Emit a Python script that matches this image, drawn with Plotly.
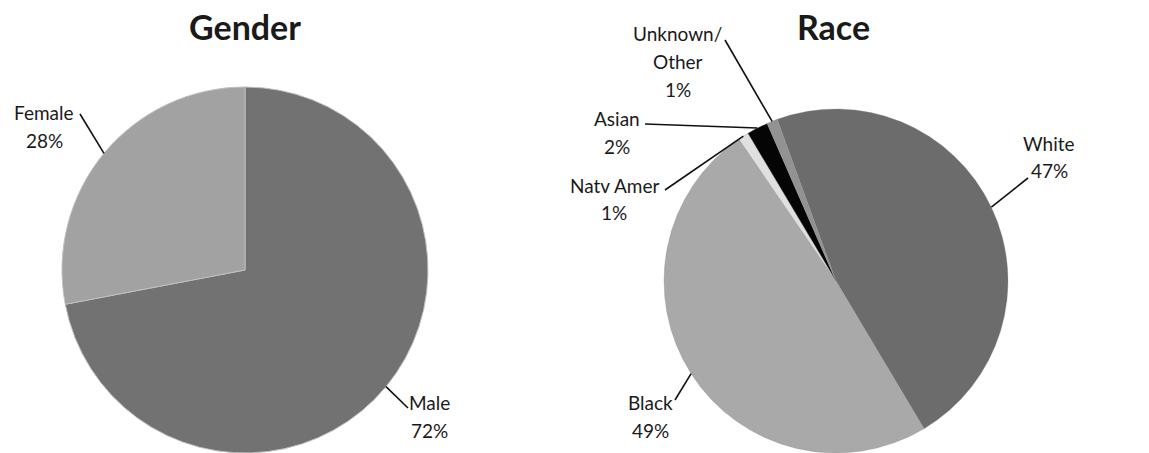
import math
import plotly.graph_objects as go

W, H = 1149, 453

# ---------------- data ----------------
gender_labels = ["Male", "Female"]
gender_values = [72, 28]
gender_colors = ["#727272", "#a2a2a2"]

race_labels = ["White", "Black", "Natv Amer", "Asian", "Unknown/<br>Other"]
race_values = [47, 49, 1, 2, 1]
race_colors = ["#6c6c6c", "#a9a9a9", "#e0e0e0", "#050505", "#929292"]

gender_rotation = 0
race_rotation = -20

# ---------------- layout geometry (px) ----------------
G_CX, G_R = 245, 183
R_CX, R_R = 836, 172

# label text centres (px) and leader-line start points (px)
gender_text_pos = {"Male": (429, 402), "Female": (44, 112)}
gender_line_start = {"Male": (408, 408), "Female": (80, 114)}
race_text_pos = {"White": (1049, 143), "Black": (650, 402), "Natv Amer": (614, 185),
                 "Asian": (617, 118), "Unknown/<br>Other": (678, 33)}
race_line_start = {"White": (1028, 178), "Black": (675, 400), "Natv Amer": (665, 190),
                   "Asian": (645, 124), "Unknown/<br>Other": (725, 40)}

LINE_GAP = 28
FONT = "Lato"


def px2paper(x, y):
    return x / W, 1 - y / H


fig = go.Figure()


def add_pie(labels, values, colors, rotation, cx, r, line_col, line_w):
    fig.add_trace(go.Pie(
        labels=labels, values=values, sort=False, direction="clockwise",
        rotation=rotation, textinfo="none", hoverinfo="label+percent",
        marker=dict(colors=colors, line=dict(color=line_col, width=line_w)),
        domain=dict(x=[(cx - r) / W, (cx + r) / W], y=[0, 2 * r / H]),
        showlegend=False,
    ))


add_pie(gender_labels, gender_values, gender_colors, gender_rotation, G_CX, G_R, "#c0c0c0", 1)
add_pie(race_labels, race_values, race_colors, race_rotation, R_CX, R_R, "#8a8a8a", 0.3)


def add_labels(labels, values, rotation, cx, r, text_pos, line_start):
    cy = H - r
    total = sum(values)
    ang = rotation
    for lab, v in zip(labels, values):
        span = 360.0 * v / total
        mid = math.radians(ang + span / 2)
        ang += span
        tip = (cx + r * math.sin(mid), cy - r * math.cos(mid))
        sx, sy = line_start[lab]
        x0, y0 = px2paper(sx, sy)
        x1, y1 = px2paper(*tip)
        fig.add_shape(type="line", xref="paper", yref="paper", x0=x0, y0=y0, x1=x1, y1=y1,
                      line=dict(color="#111111", width=1.6))
        lines = lab.split("<br>") + [f"{round(100 * v / total)}%"]
        tx, ty = text_pos[lab]
        for i, t in enumerate(lines):
            px, py = px2paper(tx, ty + i * LINE_GAP)
            fig.add_annotation(x=px, y=py, xref="paper", yref="paper", text=t,
                               showarrow=False, xanchor="center", yanchor="middle",
                               font=dict(family=FONT, size=19, color="#1a1a1a"))


add_labels(gender_labels, gender_values, gender_rotation, G_CX, G_R, gender_text_pos, gender_line_start)
add_labels(race_labels, race_values, race_rotation, R_CX, R_R, race_text_pos, race_line_start)

for title, cx in [("Gender", G_CX), ("Race", 833)]:
    px, py = px2paper(cx, 27)
    fig.add_annotation(x=px, y=py, xref="paper", yref="paper", text=f"<b>{title}</b>",
                       showarrow=False, xanchor="center", yanchor="middle",
                       font=dict(family=FONT, size=34, color="#1a1a1a"))

fig.update_layout(width=W, height=H, margin=dict(l=0, r=0, t=0, b=0),
                  paper_bgcolor="white", plot_bgcolor="white")

fig.write_html("out.html", config={"displayModeBar": False},
               post_script="document.body.style.margin='0';")
